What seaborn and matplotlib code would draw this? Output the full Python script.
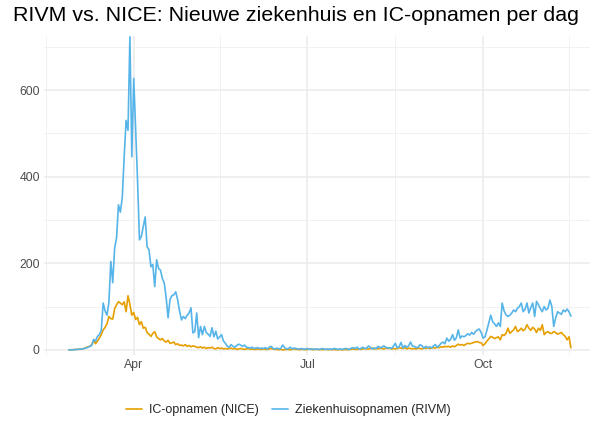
import matplotlib
matplotlib.use("Agg")
import matplotlib.pyplot as plt
import matplotlib.dates as mdates
import seaborn as sns
import pandas as pd

# dagelijkse waarden, vanaf 27 februari 2020
start_date = "2020-02-27"

ziekenhuis_rivm = [
    0, 0, 0, 0, 1, 1, 2, 2, 3, 4,
    6, 8, 10, 24, 20, 31, 35, 45, 108, 90,
    80, 110, 204, 155, 235, 258, 335, 318, 352, 446,
    530, 507, 723, 446, 627, 507, 392, 254, 262, 285,
    307, 238, 231, 192, 197, 146, 208, 188, 184, 165,
    154, 120, 74, 116, 125, 127, 134, 116, 90, 69,
    77, 72, 80, 85, 97, 39, 42, 85, 28, 54,
    35, 54, 40, 36, 31, 51, 30, 43, 25, 30,
    35, 20, 15, 8, 6, 12, 8, 6, 10, 13,
    11, 8, 11, 6, 5, 4, 6, 3, 4, 5,
    3, 4, 3, 5, 2, 6, 8, 3, 2, 4,
    2, 3, 11, 5, 2, 3, 6, 2, 4, 3,
    2, 2, 3, 1, 2, 3, 1, 2, 2, 1,
    2, 1, 2, 3, 1, 2, 1, 2, 1, 3,
    2, 1, 2, 1, 2, 3, 2, 1, 4, 5,
    3, 6, 2, 3, 6, 3, 4, 9, 5, 2,
    4, 3, 8, 5, 6, 9, 6, 4, 5, 3,
    8, 15, 5, 7, 17, 4, 10, 6, 9, 18,
    8, 8, 5, 6, 12, 9, 4, 8, 5, 7,
    4, 9, 12, 6, 10, 15, 18, 14, 27, 20,
    24, 35, 22, 28, 46, 27, 32, 30, 33, 37,
    34, 40, 36, 42, 46, 48, 40, 27, 30, 45,
    62, 80, 65, 60, 54, 62, 54, 108, 90, 81,
    77, 80, 85, 92, 88, 96, 100, 108, 88, 94,
    108, 85, 98, 108, 77, 112, 104, 95, 88, 100,
    92, 96, 115, 100, 54, 73, 88, 85, 82, 92,
    88, 94, 88, 78,
]

ic_nice = [
    0, 0, 0, 1, 1, 1, 2, 2, 3, 5,
    7, 8, 12, 22, 14, 20, 27, 35, 46, 52,
    60, 77, 72, 71, 95, 104, 111, 108, 104, 111,
    88, 125, 105, 80, 86, 70, 75, 58, 65, 50,
    52, 40, 36, 31, 38, 42, 30, 26, 23, 26,
    20, 18, 22, 15, 16, 18, 12, 14, 10, 11,
    9, 12, 8, 10, 7, 9, 8, 6, 5, 7,
    4, 6, 3, 5, 4, 6, 3, 2, 5, 3,
    4, 2, 3, 2, 3, 4, 2, 3, 1, 2,
    3, 2, 1, 2, 3, 1, 2, 1, 1, 2,
    1, 1, 2, 1, 1, 2, 3, 2, 1, 1,
    0, 1, 0, 0, 1, 1, 0, 1, 2, 1,
    1, 0, 1, 1, 0, 1, 2, 1, 0, 1,
    1, 0, 1, 0, 1, 1, 0, 1, 0, 1,
    0, 0, 1, 0, 0, 1, 0, 1, 1, 2,
    1, 1, 2, 1, 2, 3, 2, 2, 3, 4,
    2, 3, 2, 4, 3, 2, 4, 3, 4, 2,
    3, 2, 3, 5, 4, 3, 5, 2, 4, 3,
    2, 3, 2, 4, 3, 2, 4, 3, 5, 3,
    4, 5, 4, 6, 5, 7, 6, 8, 7, 8,
    6, 9, 7, 10, 13, 11, 12, 10, 13, 15,
    14, 15, 17, 18, 19, 17, 16, 10, 14, 20,
    25, 31, 29, 26, 28, 30, 23, 35, 33, 38,
    50, 38, 42, 46, 54, 42, 45, 50, 44, 48,
    58, 50, 45, 52, 48, 40, 50, 45, 58, 35,
    40, 42, 38, 38, 42, 40, 36, 38, 40, 35,
    31, 23, 30, 5,
]

series_names = ["IC-opnamen (NICE)", "Ziekenhuisopnamen (RIVM)"]
kleuren = {"IC-opnamen (NICE)": "#E69F00", "Ziekenhuisopnamen (RIVM)": "#56B4E9"}

assert len(ziekenhuis_rivm) == len(ic_nice)
datums = pd.date_range(start_date, periods=len(ic_nice), freq="D")

df = pd.concat([
    pd.DataFrame({"datum": datums, "aantal": ic_nice, "bron": series_names[0]}),
    pd.DataFrame({"datum": datums, "aantal": ziekenhuis_rivm, "bron": series_names[1]}),
])

sns.set_theme(style="white")
plt.rcParams["font.family"] = ["Liberation Sans", "DejaVu Sans"]

fig = plt.figure(figsize=(5.92, 4.23), dpi=100)
ax = fig.add_axes([44 / 592, 1 - 355 / 423, (590 - 44) / 592, (355 - 36) / 423])

sns.lineplot(data=df, x="datum", y="aantal", hue="bron", hue_order=series_names,
             palette=kleuren, linewidth=1.2, ax=ax, legend=True)

# assen en raster zoals ggplot theme_minimal
ax.set_xlim(pd.Timestamp("2020-02-14"), pd.Timestamp("2020-11-26"))
ax.set_ylim(-12, 725)
ax.set_xticks(pd.to_datetime(["2020-04-01", "2020-07-01", "2020-10-01"]))
ax.xaxis.set_major_formatter(mdates.DateFormatter("%b"))
ax.set_xticks(pd.to_datetime(["2020-02-15", "2020-05-16", "2020-08-16", "2020-11-15"]), minor=True)
ax.set_yticks([0, 200, 400, 600])
ax.set_yticks([100, 300, 500, 700], minor=True)
ax.grid(which="major", color="#EBEBEB", linewidth=1.1)
ax.grid(which="minor", color="#F1F1F1", linewidth=0.7)
ax.set_axisbelow(True)
for s in ax.spines.values():
    s.set_visible(False)
ax.tick_params(which="both", length=0, labelsize=8.8, colors="#4D4D4D", pad=3)
ax.set_xlabel("")
ax.set_ylabel("")

fig.suptitle("RIVM vs. NICE: Nieuwe ziekenhuis en IC-opnamen per dag",
             x=0.5, y=0.985, va="top", fontsize=15.4, color="black")

handles, labels = ax.get_legend_handles_labels()
ax.get_legend().remove()
fig.legend(handles, labels, loc="center", bbox_to_anchor=(0.487, 0.03), ncol=2,
           frameon=False, fontsize=9, handlelength=1.3, columnspacing=1.0,
           handletextpad=0.6)

fig.savefig("out.png", dpi=100)
